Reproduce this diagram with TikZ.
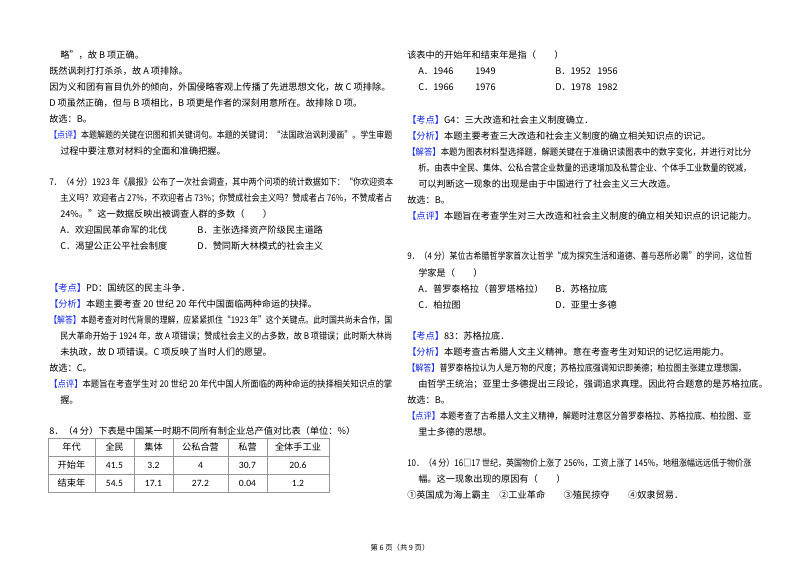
\documentclass[tikz,border=0pt]{standalone}
\usepackage{fontspec}
\usepackage{graphicx}
\setmainfont{Noto Sans CJK SC}
\newfontfamily\numf{Carlito}
\definecolor{kblue}{RGB}{20,40,230}
\definecolor{tgray}{RGB}{150,150,150}
\tikzset{txt/.style={anchor=west,inner sep=0pt,font=\fontsize{6.9pt}{9pt}\selectfont},
cell/.style={inner sep=0pt,font=\fontsize{6.9pt}{9pt}\selectfont},
numc/.style={inner sep=0pt,font=\fontsize{7.2pt}{9pt}\numf}}
\newcommand\KT[1]{\textcolor{kblue}{【#1】}}
\newcommand\TT[4]{\node[txt] (#1) at (#2,#3) {#4};}
% full-width line: width in px
\newcommand\TF[5]{\node[txt] (#1) at (#2,#3) {\resizebox{#4\dimexpr0.75pt\relax}{\height}{#5}};}
\begin{document}
\begin{tikzpicture}[x=0.75pt,y=-0.75pt]
\fill[white] (0,0) rectangle (800,565);
\useasboundingbox (0,0) rectangle (800,565);
% left column
\TT{a1}{60}{55}{略”，故 B 项正确。}
\TT{a2}{49}{71}{既然讽刺打打杀杀，故 A 项排除。}
\TT{a3}{49}{87}{因为义和团有盲目仇外的倾向，外国侵略客观上传播了先进思想文化，故 C 项排除。}
\TT{a4}{49}{103}{D 项虽然正确，但与 B 项相比，B 项更是作者的深刻用意所在。故排除 D 项。}
\TT{a5}{49}{119}{故选：B。}
\TF{a6}{49}{135}{343}{\KT{点评}本题解题的关键在识图和抓关键词句。本题的关键词：“法国政治讽刺漫画”。学生审题}
\TT{a7}{60}{151}{过程中要注意对材料的全面和准确把握。}
\TF{q7a}{49}{182}{344}{7．（4 分）1923 年《晨报》公布了一次社会调查，其中两个问项的统计数据如下：“你欢迎资本}
\TF{q7b}{60}{198}{332}{主义吗？欢迎者占 27\%，不欢迎者占 73\%；你赞成社会主义吗？赞成者占 76\%，不赞成者占}
\TT{q7c}{60}{214}{24\%。”这一数据反映出被调查人群的多数（\quad\quad）}
\TT{q7A}{60}{230}{A．欢迎国民革命军的北伐}
\TT{q7B}{197}{230}{B．主张选择资产阶级民主道路}
\TT{q7C}{60}{246}{C．渴望公正公平社会制度}
\TT{q7D}{197}{246}{D．赞同斯大林模式的社会主义}
\TT{b1}{49}{288}{\KT{考点}PD：国统区的民主斗争．}
\TT{b2}{49}{304}{\KT{分析}本题主要考查 20 世纪 20 年代中国面临两种命运的抉择。}
\TF{b3}{49}{320}{343}{\KT{解答}本题考查对时代背景的理解，应紧紧抓住“1923 年”这个关键点。此时国共尚未合作，国}
\TF{b4}{60}{336}{332}{民大革命开始于 1924 年，故 A 项错误；赞成社会主义的占多数，故 B 项错误；此时斯大林尚}
\TT{b5}{60}{352}{未执政，故 D 项错误。C 项反映了当时人们的愿望。}
\TT{b6}{49}{368}{故选：C。}
\TF{b7}{49}{384}{343}{\KT{点评}本题旨在考查学生对 20 世纪 20 年代中国人所面临的两种命运的抉择相关知识点的掌}
\TT{b8}{60}{400}{握。}
\TT{q8}{49}{431}{8．（4 分）下表是中国某一时期不同所有制企业总产值对比表（单位：\%）}
% table
\draw[tgray,line width=0.6pt] (48,438) rectangle (329,492);
\foreach \yy in {456,474} \draw[tgray,line width=0.6pt] (48,\yy) -- (329,\yy);
\foreach \xx in {95,134,173,228,267} \draw[tgray,line width=0.6pt] (\xx,438) -- (\xx,492);
\node[cell] (h1) at (71.5,447) {年代};
\node[cell] (h2) at (114.5,447) {全民};
\node[cell] (h3) at (153.5,447) {集体};
\node[cell] (h4) at (200.5,447) {公私合营};
\node[cell] (h5) at (247.5,447) {私营};
\node[cell] (h6) at (298,447) {全体手工业};
\node[cell] (r1) at (71.5,465) {开始年};
\node[numc] (r12) at (114.5,465) {41.5};
\node[numc] (r13) at (153.5,465) {3.2};
\node[numc] (r14) at (200.5,465) {4};
\node[numc] (r15) at (247.5,465) {30.7};
\node[numc] (r16) at (298,465) {20.6};
\node[cell] (r2) at (71.5,483) {结束年};
\node[numc] (r22) at (114.5,483) {54.5};
\node[numc] (r23) at (153.5,483) {17.1};
\node[numc] (r24) at (200.5,483) {27.2};
\node[numc] (r25) at (247.5,483) {0.04};
\node[numc] (r26) at (298,483) {1.2};
% right column
\TT{c1}{407}{55}{该表中的开始年和结束年是指（\quad\quad）}
\TT{c2}{418}{71}{A．1946}
\TT{c2b}{475}{71}{1949}
\TT{c3}{555}{71}{B．1952}
\TT{c3b}{597}{71}{1956}
\TT{c4}{418}{87}{C．1966}
\TT{c4b}{475}{87}{1976}
\TT{c5}{555}{87}{D．1978}
\TT{c5b}{597}{87}{1982}
\TT{d1}{407}{120}{\KT{考点}G4：三大改造和社会主义制度确立．}
\TT{d2}{407}{136}{\KT{分析}本题主要考查三大改造和社会主义制度的确立相关知识点的识记。}
\TF{d3}{407}{152}{344}{\KT{解答}本题为图表材料型选择题，解题关键在于准确识读图表中的数字变化，并进行对比分}
\TF{d4}{418}{168}{333}{析。由表中全民、集体、公私合营企业数量的迅速增加及私营企业、个体手工业数量的锐减，}
\TT{d5}{418}{184}{可以判断这一现象的出现是由于中国进行了社会主义三大改造。}
\TT{d6}{407}{200}{故选：B。}
\TT{d7}{407}{216}{\KT{点评}本题旨在考查学生对三大改造和社会主义制度的确立相关知识点的识记能力。}
\TF{q9a}{407}{256}{345}{9．（4 分）某位古希腊哲学家首次让哲学“成为探究生活和道德、善与恶所必需”的学问，这位哲}
\TT{q9b}{418}{273}{学家是（\quad\quad）}
\TT{q9A}{418}{289}{A．普罗泰格拉（普罗塔格拉）}
\TT{q9B}{555}{289}{B．苏格拉底}
\TT{q9C}{418}{305}{C．柏拉图}
\TT{q9D}{555}{305}{D．亚里士多德}
\TT{e1}{407}{336}{\KT{考点}83：苏格拉底．}
\TT{e2}{407}{352}{\KT{分析}本题考查古希腊人文主义精神。意在考查考生对知识的记忆运用能力。}
\TF{e3}{407}{368}{339}{\KT{解答}普罗泰格拉认为人是万物的尺度；苏格拉底强调知识即美德；柏拉图主张建立理想国，}
\TT{e4}{418}{384}{由哲学王统治；亚里士多德提出三段论，强调追求真理。因此符合题意的是苏格拉底。}
\TT{e5}{407}{400}{故选：B。}
\TF{e6}{407}{416}{344}{\KT{点评}本题考查了古希腊人文主义精神，解题时注意区分普罗泰格拉、苏格拉底、柏拉图、亚}
\TT{e7}{418}{432}{里士多德的思想。}
\TF{q10a}{407}{463}{344}{10．（4 分）16□17 世纪，英国物价上涨了 256\%，工资上涨了 145\%，地租涨幅远远低于物价涨}
\TT{q10b}{418}{479}{幅。这一现象出现的原因有（\quad\quad）}
\TT{q10c}{407}{495}{①英国成为海上霸主\quad ②工业革命\quad\quad ③殖民掠夺\quad\quad ④奴隶贸易．}
\node[inner sep=0pt,font=\fontsize{5.5pt}{7pt}\selectfont] (foot) at (400,548) {第 6 页（共 9 页）};
\end{tikzpicture}
\end{document}
